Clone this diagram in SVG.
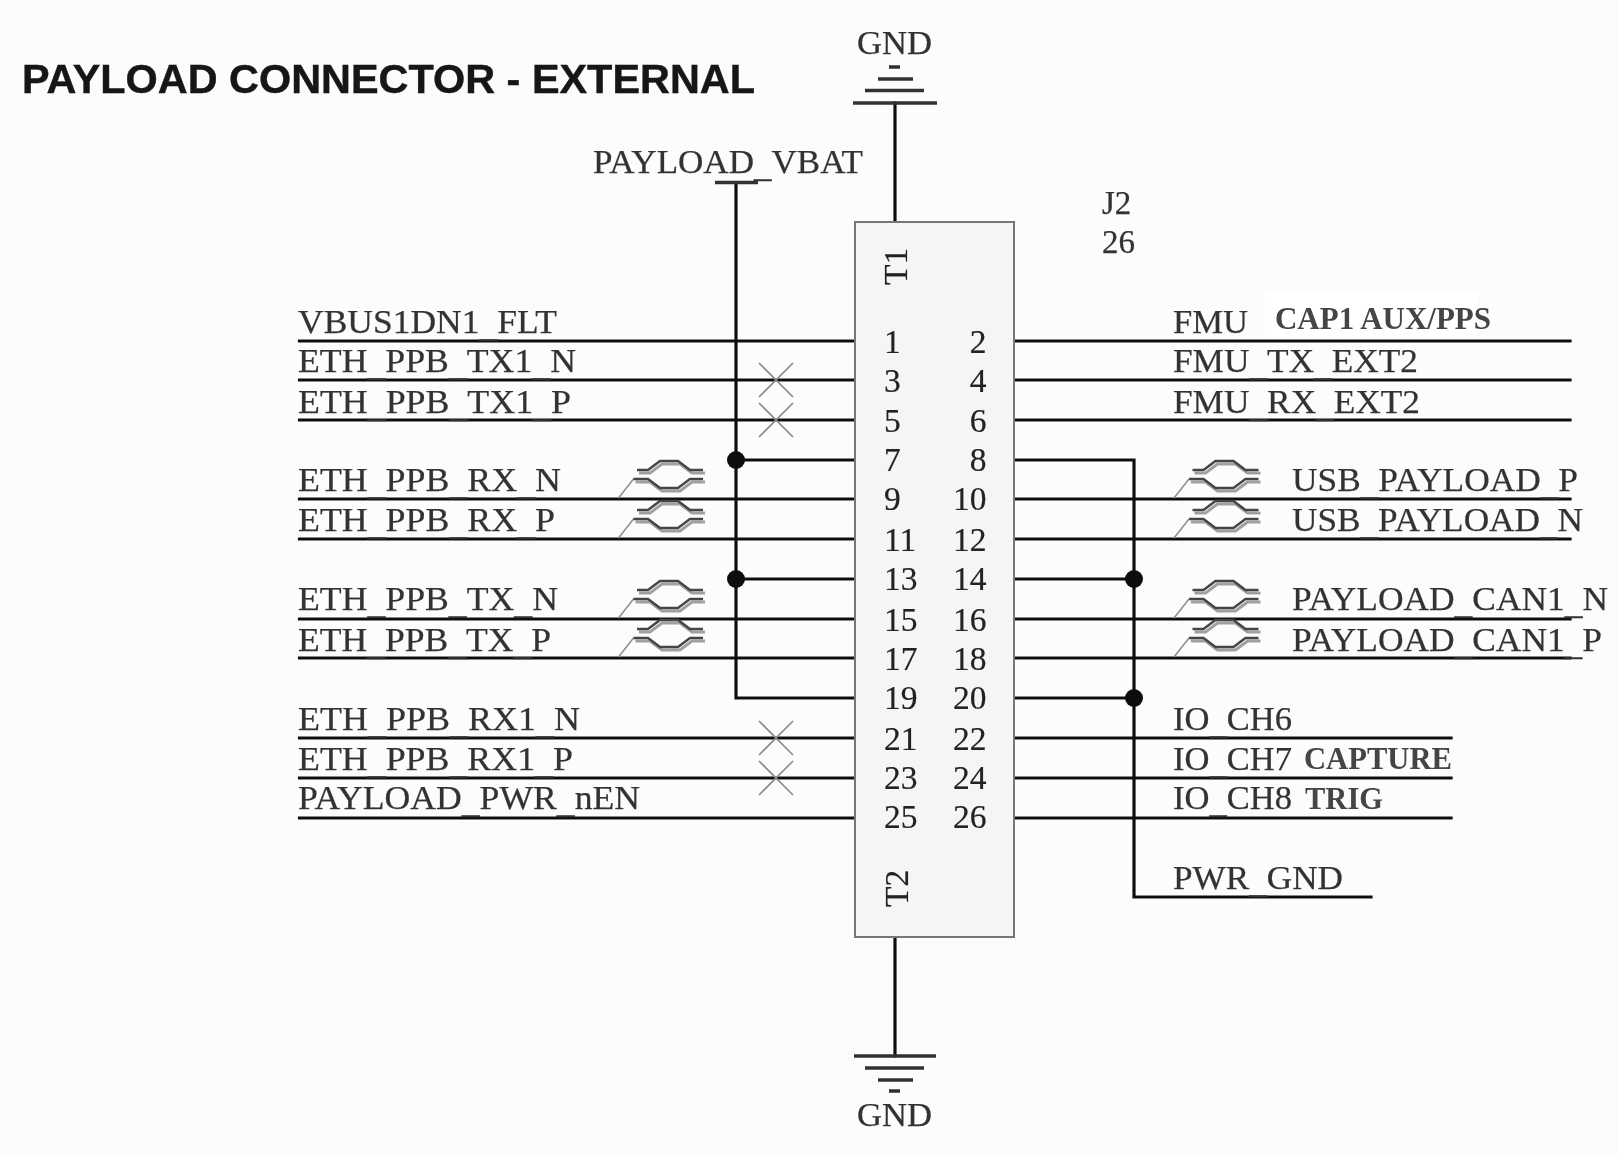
<svg xmlns="http://www.w3.org/2000/svg" xmlns:xlink="http://www.w3.org/1999/xlink" width="1618" height="1156" viewBox="0 0 1618 1156">
<style>
.w{fill:none;stroke:#111;stroke-width:3.2;stroke-linecap:square;stroke-linejoin:miter}
.bar{fill:none;stroke:#333;stroke-width:3.5}
.x{fill:none;stroke:#8a8a8a;stroke-width:1.6}
.d{fill:#111;stroke:none}
.t{font-family:"Liberation Serif","Times New Roman",serif;font-size:33px;fill:#333;stroke:#333;stroke-width:.25}
.n{font-family:"Liberation Serif","Times New Roman",serif;font-size:33.500px;fill:#222;stroke:#222;stroke-width:.2}
.b{font-family:"Liberation Serif","Times New Roman",serif;font-weight:bold;font-size:30.500px;fill:#444}
.h{font-family:"Liberation Sans",Arial,sans-serif;font-weight:bold;font-size:40px;fill:#141414;stroke:#141414;stroke-width:.4}
.u{baseline-shift:-3.500px}
.dm{fill:none;stroke:#444;stroke-width:2.4}
.ds{fill:none;stroke:#a0a0a0;stroke-width:3}
.dl{fill:none;stroke:#909090;stroke-width:1.6}
</style>
<defs>
<filter id="soft" x="0" y="0" width="100%" height="100%" filterUnits="userSpaceOnUse"><feGaussianBlur stdDeviation="0.6"/></filter>
<g id="pair">
<path class="ds" d="M20.5,-26H31.5L43.5,-35H61.5L73.5,-26H86.5M17,-17H31.5L43.5,-8H61.5L73.5,-17H86.5"/>
<path class="dl" d="M0,-1L15,-20"/>
<path class="dm" d="M18.5,-29H29.5L41.5,-38H59.5L71.5,-29H84.5M15,-20H29.5L41.5,-11H59.5L71.5,-20H84.5"/>
</g>
<path id="nc" class="x" d="M-17,-17L17,17M-17,17L17,-17"/>
</defs>
<rect width="1618" height="1156" fill="#fcfcfc"/>
<g filter="url(#soft)">
<g id="title"><text class="h" x="22" y="93" textLength="733" lengthAdjust="spacingAndGlyphs">PAYLOAD CONNECTOR - EXTERNAL</text></g>
<g id="connectors">
<path class="w" d="M299.500,341H855M299.500,380H855M299.500,420H855M299.500,499H855M299.500,539H855M299.500,619H855M299.500,658H855M299.500,738H855M299.500,778H855M299.500,818H855"/>
<path class="w" d="M1014,341H1570M1014,380H1570M1014,420H1570M1014,499H1570M1014,539H1570M1014,619H1570M1014,658H1570M1014,738H1451M1014,778H1451M1014,818H1451"/>
<path class="w" d="M736,183V698H855M736,460H855M736,579H855"/>
<path class="w" d="M1014,460H1134V897H1371M1014,579H1134M1014,698H1134"/>
<path class="w" d="M895,103V222M895,937V1056"/>
<circle class="d" cx="736" cy="460" r="9"/>
<circle class="d" cx="736" cy="579" r="9"/>
<circle class="d" cx="1134" cy="579" r="9"/>
<circle class="d" cx="1134" cy="698" r="9"/>
<use xlink:href="#pair" href="#pair" x="618.5" y="499"/>
<use xlink:href="#pair" href="#pair" x="618.5" y="539"/>
<use xlink:href="#pair" href="#pair" x="618.5" y="619"/>
<use xlink:href="#pair" href="#pair" x="618.5" y="658"/>
<use xlink:href="#pair" href="#pair" x="1174" y="499"/>
<use xlink:href="#pair" href="#pair" x="1174" y="539"/>
<use xlink:href="#pair" href="#pair" x="1174" y="619"/>
<use xlink:href="#pair" href="#pair" x="1174" y="658"/>
<use xlink:href="#nc" href="#nc" x="776" y="380"/>
<use xlink:href="#nc" href="#nc" x="776" y="420"/>
<use xlink:href="#nc" href="#nc" x="776" y="738"/>
<use xlink:href="#nc" href="#nc" x="776" y="778"/>
</g>
<g id="J2">
<rect x="855" y="222" width="159" height="715" fill="#f5f5f5" stroke="#777" stroke-width="2"/>
<text class="n" transform="translate(907 285) rotate(-90)">T1</text>
<text class="n" transform="translate(908 907) rotate(-90)">T2</text>
<text class="t" x="1102" y="214">J2</text>
<text class="t" x="1102" y="253">26</text>
<g text-anchor="start">
<text class="n" x="884" y="353">1</text>
<text class="n" x="884" y="392">3</text>
<text class="n" x="884" y="432">5</text>
<text class="n" x="884" y="471">7</text>
<text class="n" x="884" y="510">9</text>
<text class="n" x="884" y="551">11</text>
<text class="n" x="884" y="590">13</text>
<text class="n" x="884" y="631">15</text>
<text class="n" x="884" y="670">17</text>
<text class="n" x="884" y="709">19</text>
<text class="n" x="884" y="750">21</text>
<text class="n" x="884" y="789">23</text>
<text class="n" x="884" y="828">25</text>
</g>
<g text-anchor="end">
<text class="n" x="986.500" y="353">2</text>
<text class="n" x="986.500" y="392">4</text>
<text class="n" x="986.500" y="432">6</text>
<text class="n" x="986.500" y="471">8</text>
<text class="n" x="986.500" y="510">10</text>
<text class="n" x="986.500" y="551">12</text>
<text class="n" x="986.500" y="590">14</text>
<text class="n" x="986.500" y="631">16</text>
<text class="n" x="986.500" y="670">18</text>
<text class="n" x="986.500" y="709">20</text>
<text class="n" x="986.500" y="750">22</text>
<text class="n" x="986.500" y="789">24</text>
<text class="n" x="986.500" y="828">26</text>
</g>
</g>
<g id="gnd-top">
<path class="bar" d="M853,103H937M865,90.500H924M878,79H913M889,67H900"/>
<text class="t" x="857" y="54" textLength="75" lengthAdjust="spacingAndGlyphs">GND</text>
</g>
<g id="gnd-bottom">
<path class="bar" d="M854,1056H936M865,1068H924M878,1080H913M889,1091H900"/>
<text class="t" x="857" y="1126" textLength="75" lengthAdjust="spacingAndGlyphs">GND</text>
</g>
<g id="vbat">
<path class="bar" d="M715,182.500H758"/>
<text class="t" x="593" y="173" textLength="270" lengthAdjust="spacingAndGlyphs">PAYLOAD<tspan class="u">_</tspan>VBAT</text>
</g>
<g id="labels-left">
<text class="t" x="298" y="333" textLength="259" lengthAdjust="spacingAndGlyphs">VBUS1DN1<tspan class="u">_</tspan>FLT</text>
<text class="t" x="298" y="372" textLength="278" lengthAdjust="spacingAndGlyphs">ETH<tspan class="u">_</tspan>PPB<tspan class="u">_</tspan>TX1<tspan class="u">_</tspan>N</text>
<text class="t" x="298" y="413" textLength="273" lengthAdjust="spacingAndGlyphs">ETH<tspan class="u">_</tspan>PPB<tspan class="u">_</tspan>TX1<tspan class="u">_</tspan>P</text>
<text class="t" x="298" y="491" textLength="263" lengthAdjust="spacingAndGlyphs">ETH<tspan class="u">_</tspan>PPB<tspan class="u">_</tspan>RX<tspan class="u">_</tspan>N</text>
<text class="t" x="298" y="531" textLength="257" lengthAdjust="spacingAndGlyphs">ETH<tspan class="u">_</tspan>PPB<tspan class="u">_</tspan>RX<tspan class="u">_</tspan>P</text>
<text class="t" x="298" y="610" textLength="260" lengthAdjust="spacingAndGlyphs">ETH<tspan class="u">_</tspan>PPB<tspan class="u">_</tspan>TX<tspan class="u">_</tspan>N</text>
<text class="t" x="298" y="651" textLength="253" lengthAdjust="spacingAndGlyphs">ETH<tspan class="u">_</tspan>PPB<tspan class="u">_</tspan>TX<tspan class="u">_</tspan>P</text>
<text class="t" x="298" y="730" textLength="282" lengthAdjust="spacingAndGlyphs">ETH<tspan class="u">_</tspan>PPB<tspan class="u">_</tspan>RX1<tspan class="u">_</tspan>N</text>
<text class="t" x="298" y="770" textLength="275" lengthAdjust="spacingAndGlyphs">ETH<tspan class="u">_</tspan>PPB<tspan class="u">_</tspan>RX1<tspan class="u">_</tspan>P</text>
<text class="t" x="298" y="809" textLength="342" lengthAdjust="spacingAndGlyphs">PAYLOAD<tspan class="u">_</tspan>PWR<tspan class="u">_</tspan>nEN</text>
</g>
<g id="labels-right">
<text class="t" x="1173" y="333" textLength="75" lengthAdjust="spacingAndGlyphs">FMU</text>
<rect x="1265" y="292" width="213" height="46" fill="#fff"/>
<text class="b" x="1275" y="329" textLength="216" lengthAdjust="spacingAndGlyphs">CAP1 AUX/PPS</text>
<text class="t" x="1173" y="372" textLength="245" lengthAdjust="spacingAndGlyphs">FMU<tspan class="u">_</tspan>TX<tspan class="u">_</tspan>EXT2</text>
<text class="t" x="1173" y="413" textLength="247" lengthAdjust="spacingAndGlyphs">FMU<tspan class="u">_</tspan>RX<tspan class="u">_</tspan>EXT2</text>
<text class="t" x="1292" y="491" textLength="286" lengthAdjust="spacingAndGlyphs">USB<tspan class="u">_</tspan>PAYLOAD<tspan class="u">_</tspan>P</text>
<text class="t" x="1292" y="531" textLength="291" lengthAdjust="spacingAndGlyphs">USB<tspan class="u">_</tspan>PAYLOAD<tspan class="u">_</tspan>N</text>
<text class="t" x="1292" y="610" textLength="316" lengthAdjust="spacingAndGlyphs">PAYLOAD<tspan class="u">_</tspan>CAN1<tspan class="u">_</tspan>N</text>
<text class="t" x="1292" y="651" textLength="310" lengthAdjust="spacingAndGlyphs">PAYLOAD<tspan class="u">_</tspan>CAN1<tspan class="u">_</tspan>P</text>
<text class="t" x="1173" y="730" textLength="119" lengthAdjust="spacingAndGlyphs">IO<tspan class="u">_</tspan>CH6</text>
<text class="t" x="1173" y="770" textLength="119" lengthAdjust="spacingAndGlyphs">IO<tspan class="u">_</tspan>CH7</text>
<text class="b" x="1304" y="769" textLength="148" lengthAdjust="spacingAndGlyphs">CAPTURE</text>
<text class="t" x="1173" y="809" textLength="119" lengthAdjust="spacingAndGlyphs">IO<tspan class="u">_</tspan>CH8</text>
<text class="b" x="1305" y="809" textLength="78" lengthAdjust="spacingAndGlyphs">TRIG</text>
<text class="t" x="1173" y="889" textLength="170" lengthAdjust="spacingAndGlyphs">PWR<tspan class="u">_</tspan>GND</text>
</g>
</g>
</svg>
